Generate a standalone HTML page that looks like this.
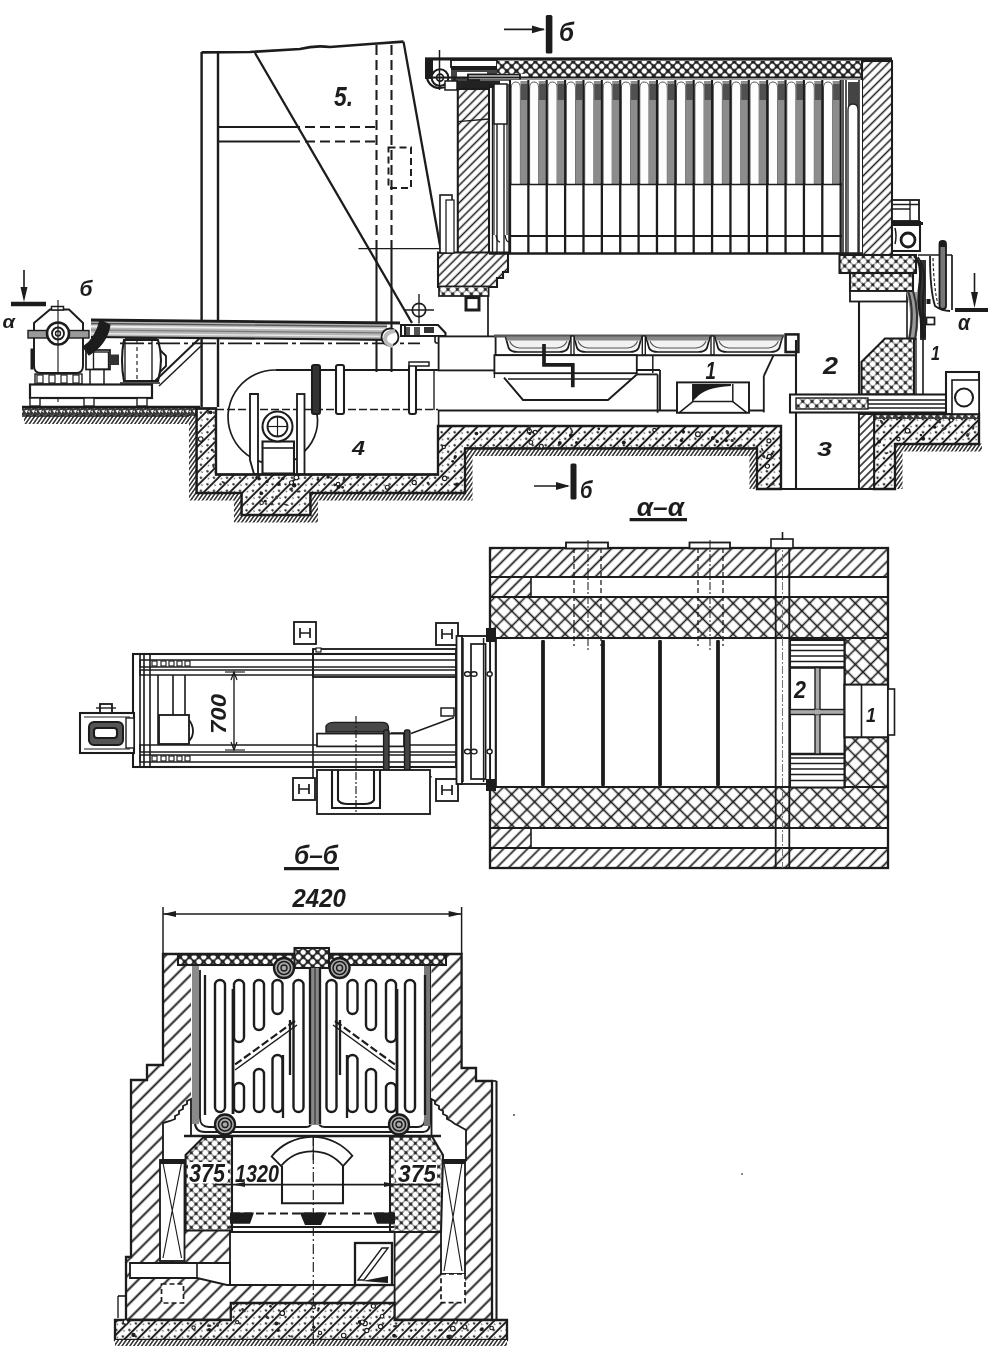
<!DOCTYPE html>
<html><head><meta charset="utf-8"><title>Furnace drawing</title>
<style>html,body{margin:0;padding:0;background:#fff;} svg{display:block;filter:blur(0.4px);}</style></head>
<body><svg width="1000" height="1361" viewBox="0 0 1000 1361"><defs>
 <pattern id="h8" width="6.2" height="6.2" patternUnits="userSpaceOnUse" patternTransform="rotate(45)"><rect width="6.2" height="6.2" fill="#fff"/><line x1="3.1" y1="-1" x2="3.1" y2="7.2" stroke="#1c1c1c" stroke-width="1.5"/></pattern>
 <pattern id="h6" width="5.5" height="5.5" patternUnits="userSpaceOnUse" patternTransform="rotate(45)"><rect width="5.5" height="5.5" fill="#fff"/><line x1="2.75" y1="-1" x2="2.75" y2="6.5" stroke="#1c1c1c" stroke-width="1.5"/></pattern>
 <pattern id="h12" width="8.5" height="8.5" patternUnits="userSpaceOnUse" patternTransform="rotate(45)"><rect width="8.5" height="8.5" fill="#fff"/><line x1="4.25" y1="-1" x2="4.25" y2="9.5" stroke="#1c1c1c" stroke-width="1.7"/></pattern>
 <pattern id="h10" width="10.5" height="10.5" patternUnits="userSpaceOnUse" patternTransform="rotate(45)"><rect width="10.5" height="10.5" fill="#fff"/><line x1="5.25" y1="-1" x2="5.25" y2="11.5" stroke="#1c1c1c" stroke-width="1.95"/></pattern>
 <pattern id="conc" width="9.2" height="9.2" patternUnits="userSpaceOnUse" patternTransform="rotate(45)"><rect width="9.2" height="9.2" fill="#fff"/><line x1="4.6" y1="-1" x2="4.6" y2="10.2" stroke="#1c1c1c" stroke-width="2.0"/><circle cx="1.5" cy="2.5" r="1.2" fill="#1c1c1c"/><circle cx="7.5" cy="7" r="0.8" fill="#555"/></pattern>
 <pattern id="gnd" width="3.2" height="3.2" patternUnits="userSpaceOnUse" patternTransform="rotate(35)"><rect width="3.2" height="3.2" fill="#fff"/><line x1="1.6" y1="-1" x2="1.6" y2="4.2" stroke="#1c1c1c" stroke-width="1.4"/></pattern>
 <pattern id="x10" width="6.7" height="6.7" patternUnits="userSpaceOnUse" patternTransform="rotate(45)">
   <rect width="7" height="7" fill="#222"/>
   <circle cx="3.35" cy="3.35" r="2.6" fill="#fff"/></pattern>
 <pattern id="x10b" width="6.6" height="6.6" patternUnits="userSpaceOnUse" patternTransform="rotate(45)">
   <rect width="7" height="7" fill="#222"/>
   <circle cx="3.3" cy="3.3" r="3.0" fill="#fff"/></pattern>
 <pattern id="x15" width="10.8" height="10.8" patternUnits="userSpaceOnUse" patternTransform="rotate(45)">
   <rect width="11" height="11" fill="#fff"/>
   <line x1="5.4" y1="-1" x2="5.4" y2="12" stroke="#1c1c1c" stroke-width="1.6"/>
   <line x1="-1" y1="5.4" x2="12" y2="5.4" stroke="#1c1c1c" stroke-width="1.6"/>
   <circle cx="5.4" cy="5.4" r="1.1" fill="#1c1c1c"/></pattern>
 <pattern id="gband" width="7" height="9" patternUnits="userSpaceOnUse">
   <rect width="7" height="9" fill="#3a3a3a"/><path d="M0.5,1.5 L5,0.8 L3.5,3.8 Z M3.5,5.5 L7,4.8 L5.5,8.3 Z M0,6 L2,5.5 L1.5,8 Z" fill="#fff"/></pattern>
</defs>
<line x1="24" y1="270" x2="24" y2="292" stroke="#1c1c1c" stroke-width="1.61" stroke-linecap="butt"/>
<path d="M20.5,287 L24,302 L27.5,287 Z" fill="#1c1c1c" />
<line x1="11" y1="304" x2="46" y2="304" stroke="#1c1c1c" stroke-width="4.6" stroke-linecap="butt"/>
<text x="2.5" y="327.5" font-family="Liberation Sans" font-size="18.9" font-style="italic" font-weight="bold" fill="#1c1c1c" textLength="12.5" lengthAdjust="spacingAndGlyphs">α</text>
<text x="79.5" y="296" font-family="Liberation Sans" font-size="22.4" font-style="italic" font-weight="bold" fill="#1c1c1c" textLength="13.0" lengthAdjust="spacingAndGlyphs">б</text>
<rect x="22" y="407" width="175" height="9" fill="url(#gband)" />
<rect x="24" y="416" width="173" height="8" fill="url(#gnd)" />
<line x1="22" y1="407" x2="200" y2="407" stroke="#1c1c1c" stroke-width="2.53" stroke-linecap="butt"/>
<line x1="22" y1="416" x2="197" y2="416" stroke="#1c1c1c" stroke-width="1.38" stroke-linecap="butt"/>
<path d="M34,323 L50,309.5 L69,309.5 L83,323 L83,366 Q83,373 76,373 L41,373 Q34,373 34,366 Z" fill="#fff" stroke="#1c1c1c" stroke-width="1.95" />
<rect x="51.5" y="306.5" width="12" height="3.5" fill="#fff" stroke="#1c1c1c" stroke-width="1.49" />
<rect x="28" y="330.5" width="61" height="7.5" fill="#9a9a9a" stroke="#1c1c1c" stroke-width="1.38" />
<circle cx="58" cy="333.5" r="11" fill="#fff" stroke="#1c1c1c" stroke-width="2.53"/>
<circle cx="58" cy="333.5" r="6" fill="none" stroke="#1c1c1c" stroke-width="1.84"/>
<circle cx="58" cy="333.5" r="2.5" fill="none" stroke="#1c1c1c" stroke-width="1.38"/>
<line x1="58" y1="300" x2="58" y2="402" stroke="#1c1c1c" stroke-width="1.15" stroke-linecap="butt"/>
<line x1="32" y1="348.5" x2="32" y2="369.5" stroke="#1c1c1c" stroke-width="2.99" stroke-linecap="butt"/>
<rect x="35" y="374" width="47" height="10" fill="#fff" stroke="#1c1c1c" stroke-width="1.38" />
<rect x="37" y="375" width="6" height="8" fill="#fff" stroke="#1c1c1c" stroke-width="1.15" />
<rect x="49" y="375" width="6" height="8" fill="#fff" stroke="#1c1c1c" stroke-width="1.15" />
<rect x="61" y="375" width="6" height="8" fill="#fff" stroke="#1c1c1c" stroke-width="1.15" />
<rect x="73" y="375" width="6" height="8" fill="#fff" stroke="#1c1c1c" stroke-width="1.15" />
<rect x="30" y="384.5" width="122" height="13.5" fill="#fff" stroke="#1c1c1c" stroke-width="2.18" />
<rect x="30" y="398" width="10" height="8" fill="#fff" stroke="#1c1c1c" stroke-width="1.38" />
<rect x="84" y="398" width="10" height="8" fill="#fff" stroke="#1c1c1c" stroke-width="1.38" />
<rect x="137" y="398" width="10" height="8" fill="#fff" stroke="#1c1c1c" stroke-width="1.38" />
<rect x="86" y="350" width="24" height="19.5" fill="#fff" stroke="#1c1c1c" stroke-width="1.72" />
<rect x="93.5" y="352" width="15" height="17" fill="#fff" stroke="#1c1c1c" stroke-width="1.38" />
<line x1="90" y1="369.5" x2="90" y2="384" stroke="#1c1c1c" stroke-width="1.49" stroke-linecap="butt"/>
<line x1="104" y1="369.5" x2="104" y2="384" stroke="#1c1c1c" stroke-width="1.49" stroke-linecap="butt"/>
<rect x="110" y="354.5" width="9" height="10.5" fill="#333" />
<path d="M124,340 Q120,360 124,381 L158,381 Q164,360 158,340 Z" fill="#fff" stroke="#1c1c1c" stroke-width="2.07" />
<line x1="125" y1="338" x2="157" y2="338" stroke="#1c1c1c" stroke-width="1.84" stroke-linecap="butt"/>
<line x1="125" y1="340" x2="125" y2="381" stroke="#1c1c1c" stroke-width="1.38" stroke-linecap="butt"/>
<line x1="137" y1="340" x2="137" y2="381" stroke="#1c1c1c" stroke-width="1.15" stroke-dasharray="4,3" stroke-linecap="butt"/>
<line x1="152" y1="340" x2="152" y2="381" stroke="#1c1c1c" stroke-width="1.38" stroke-linecap="butt"/>
<path d="M160,350 L166,356 L166,366 L160,372" fill="none" stroke="#1c1c1c" stroke-width="1.84" />
<line x1="120" y1="383" x2="160" y2="383" stroke="#1c1c1c" stroke-width="1.49" stroke-linecap="butt"/>
<line x1="155" y1="381" x2="201" y2="337" stroke="#1c1c1c" stroke-width="1.95" stroke-linecap="butt"/>
<line x1="159" y1="386" x2="201" y2="346" stroke="#1c1c1c" stroke-width="1.49" stroke-linecap="butt"/>
<line x1="201.6" y1="52" x2="201.6" y2="407" stroke="#1c1c1c" stroke-width="2.42" stroke-linecap="butt"/>
<line x1="218" y1="52" x2="218" y2="407" stroke="#1c1c1c" stroke-width="2.42" stroke-linecap="butt"/>
<path d="M201.6,52.4 L250,52 L300,49 Q315,45 330,47 L370,44 L403.5,41.6" fill="none" stroke="#1c1c1c" stroke-width="2.64" />
<line x1="403.5" y1="41.6" x2="441" y2="251" stroke="#1c1c1c" stroke-width="2.3" stroke-linecap="butt"/>
<line x1="255" y1="53" x2="412" y2="323" stroke="#1c1c1c" stroke-width="2.3" stroke-linecap="butt"/>
<line x1="218" y1="127" x2="290" y2="127" stroke="#1c1c1c" stroke-width="1.95" stroke-linecap="butt"/>
<line x1="290" y1="127" x2="376.5" y2="127" stroke="#1c1c1c" stroke-width="2.07" stroke-dasharray="10,5" stroke-linecap="butt"/>
<line x1="218" y1="141.5" x2="290" y2="141.5" stroke="#1c1c1c" stroke-width="1.95" stroke-linecap="butt"/>
<line x1="290" y1="141.5" x2="376.5" y2="141.5" stroke="#1c1c1c" stroke-width="2.07" stroke-dasharray="10,5" stroke-linecap="butt"/>
<line x1="376.5" y1="45" x2="376.5" y2="250" stroke="#1c1c1c" stroke-width="2.07" stroke-dasharray="10,5" stroke-linecap="butt"/>
<line x1="391.5" y1="45" x2="391.5" y2="250" stroke="#1c1c1c" stroke-width="2.07" stroke-dasharray="10,5" stroke-linecap="butt"/>
<line x1="376.5" y1="250" x2="376.5" y2="372" stroke="#1c1c1c" stroke-width="2.07" stroke-linecap="butt"/>
<line x1="391.5" y1="250" x2="391.5" y2="372" stroke="#1c1c1c" stroke-width="2.07" stroke-linecap="butt"/>
<rect x="388.5" y="147.5" width="22.5" height="40.5" fill="none" stroke="#1c1c1c" stroke-width="1.95" stroke-dasharray="7,4"/>
<line x1="358.5" y1="248.6" x2="439.5" y2="248.6" stroke="#1c1c1c" stroke-width="1.38" stroke-linecap="butt"/>
<text x="334" y="105.5" font-family="Liberation Sans" font-size="27.9" font-style="italic" font-weight="bold" fill="#1c1c1c" textLength="19" lengthAdjust="spacingAndGlyphs">5.</text>
<circle cx="419" cy="310" r="6.7" fill="none" stroke="#1c1c1c" stroke-width="1.72"/>
<line x1="404" y1="310" x2="434" y2="310" stroke="#1c1c1c" stroke-width="1.49" stroke-linecap="butt"/>
<line x1="419" y1="294" x2="419" y2="323.5" stroke="#1c1c1c" stroke-width="1.38" stroke-linecap="butt"/>
<path d="M91,320.0 L387,322.873786407767 L387,339.873786407767 L91,337.0 Z" fill="#b4b4b4" />
<line x1="91" y1="320.0" x2="400" y2="323.0" stroke="#1c1c1c" stroke-width="2.76" stroke-linecap="butt"/>
<line x1="91" y1="323.5" x2="387" y2="326.37" stroke="#555" stroke-width="1.38" stroke-linecap="butt"/>
<line x1="91" y1="326.5" x2="387" y2="329.37" stroke="#eee" stroke-width="1.84" stroke-linecap="butt"/>
<line x1="91" y1="330.0" x2="387" y2="332.87" stroke="#777" stroke-width="1.15" stroke-linecap="butt"/>
<line x1="91" y1="333.5" x2="387" y2="336.37" stroke="#e8e8e8" stroke-width="1.38" stroke-linecap="butt"/>
<line x1="91" y1="337.0" x2="387" y2="339.87" stroke="#1c1c1c" stroke-width="2.07" stroke-linecap="butt"/>
<line x1="120" y1="343.3" x2="420" y2="343.3" stroke="#1c1c1c" stroke-width="1.72" stroke-dasharray="24,4,4,4" stroke-linecap="butt"/>
<circle cx="390" cy="337" r="8.5" fill="#fff" stroke="#1c1c1c" stroke-width="1.84"/>
<path d="M395,331 Q385,332 385,339 Q386,345 393,346" fill="none" stroke="#bbb" stroke-width="4.02" />
<path d="M401,325 L438,325 L445.5,333 L445.5,336 L401,336 Z" fill="#fff" stroke="#1c1c1c" stroke-width="2.07" />
<rect x="404" y="327" width="6" height="8" fill="#555" />
<rect x="414" y="327" width="6" height="8" fill="#555" />
<rect x="424" y="327" width="10" height="6" fill="#333" />
<rect x="435" y="336" width="7" height="7" fill="#fff" stroke="#1c1c1c" stroke-width="1.61" rx="2" />
<line x1="405" y1="325" x2="405" y2="336" stroke="#1c1c1c" stroke-width="1.84" stroke-linecap="butt"/>
<path d="M83,347 Q96,338 100,320 L110,325 Q107,344 89,355 Z" fill="#1c1c1c" stroke="#1c1c1c" stroke-width="1.15" />
<line x1="504" y1="29.4" x2="544" y2="29.4" stroke="#1c1c1c" stroke-width="1.61" stroke-linecap="butt"/>
<path d="M532,25.5 L545,29.4 L532,33.3 Z" fill="#1c1c1c" />
<rect x="545.8" y="15" width="6.6" height="38.4" fill="#1c1c1c" rx="1.5" />
<text x="559" y="41" font-family="Liberation Sans" font-size="26.3" font-style="italic" font-weight="bold" fill="#1c1c1c" textLength="15" lengthAdjust="spacingAndGlyphs">б</text>
<rect x="425" y="57.6" width="467" height="2.8" fill="#1c1c1c" />
<rect x="425" y="60.4" width="95" height="28" fill="#fff" />
<rect x="425" y="59" width="8" height="20" fill="#1c1c1c" />
<rect x="451" y="60" width="46" height="7" fill="#fff" stroke="#1c1c1c" stroke-width="1.84" />
<rect x="451" y="66" width="50" height="4.5" fill="#1c1c1c" />
<rect x="451" y="70" width="46" height="11" fill="#444" />
<rect x="457" y="72" width="30" height="5" fill="#fff" />
<rect x="468" y="74.5" width="52" height="5.5" fill="#fff" stroke="#1c1c1c" stroke-width="1.84" />
<rect x="451" y="81" width="49" height="7" fill="#222" />
<rect x="497" y="61" width="31" height="13" fill="url(#x10)" />
<circle cx="440" cy="77.6" r="8.4" fill="#fff" stroke="#1c1c1c" stroke-width="2.07"/>
<circle cx="440" cy="77.6" r="3.5" fill="none" stroke="#1c1c1c" stroke-width="1.61"/>
<line x1="439.5" y1="50" x2="439.5" y2="90" stroke="#1c1c1c" stroke-width="1.49" stroke-linecap="butt"/>
<line x1="430" y1="77.6" x2="450" y2="77.6" stroke="#1c1c1c" stroke-width="1.15" stroke-linecap="butt"/>
<path d="M426,62 L426,74 Q428,88 440,88 Q452,88 455,78" fill="none" stroke="#1c1c1c" stroke-width="2.07" />
<rect x="445" y="81" width="12" height="9" fill="#fff" stroke="#1c1c1c" stroke-width="1.49" />
<rect x="425" y="57.6" width="467" height="2.8" fill="#1c1c1c" />
<rect x="528" y="61" width="334" height="16" fill="url(#x10)" />
<line x1="425" y1="77.5" x2="862" y2="77.5" stroke="#1c1c1c" stroke-width="1.84" stroke-linecap="butt"/>
<line x1="480" y1="80" x2="862" y2="80" stroke="#777" stroke-width="1.49" stroke-linecap="butt"/>
<rect x="862" y="61" width="30" height="194" fill="url(#h8)" stroke="#1c1c1c" stroke-width="2.07" />
<rect x="457.8" y="89" width="31.2" height="164" fill="url(#h8)" stroke="#1c1c1c" stroke-width="2.07" />
<line x1="457.8" y1="121.6" x2="489" y2="119" stroke="#1c1c1c" stroke-width="1.38" stroke-linecap="butt"/>
<path d="M438,252.5 L508,252.5 L508,272 L503,272 L503,278 L497,278 L497,287 L438,287 Z" fill="url(#h8)" stroke="#1c1c1c" stroke-width="2.07" />
<rect x="439" y="286.4" width="49.6" height="9.6" fill="url(#x10b)" stroke="#1c1c1c" stroke-width="1.72" />
<rect x="466" y="297.6" width="13" height="12.4" fill="#fff" stroke="#1c1c1c" stroke-width="2.99" />
<line x1="472" y1="296" x2="472" y2="299" stroke="#1c1c1c" stroke-width="1.61" stroke-linecap="butt"/>
<rect x="440" y="195" width="12" height="58" fill="#fff" stroke="#1c1c1c" stroke-width="1.61" />
<rect x="446" y="200" width="8" height="53" fill="#fff" stroke="#1c1c1c" stroke-width="1.26" />
<line x1="489" y1="84" x2="489" y2="253" stroke="#1c1c1c" stroke-width="1.38" stroke-linecap="butt"/>
<line x1="492.5" y1="84" x2="492.5" y2="253" stroke="#1c1c1c" stroke-width="1.38" stroke-linecap="butt"/>
<line x1="497" y1="84" x2="497" y2="253" stroke="#1c1c1c" stroke-width="1.38" stroke-linecap="butt"/>
<line x1="504" y1="84" x2="504" y2="253" stroke="#1c1c1c" stroke-width="1.38" stroke-linecap="butt"/>
<line x1="509" y1="84" x2="509" y2="253" stroke="#1c1c1c" stroke-width="1.38" stroke-linecap="butt"/>
<line x1="514" y1="84" x2="514" y2="253" stroke="#1c1c1c" stroke-width="1.38" stroke-linecap="butt"/>
<line x1="520" y1="84" x2="520" y2="253" stroke="#1c1c1c" stroke-width="1.38" stroke-linecap="butt"/>
<path d="M494,84 L494,235 M507,84 L507,235" fill="none" stroke="#1c1c1c" stroke-width="1.15" />
<rect x="494" y="84" width="13" height="40" fill="#fff" stroke="#1c1c1c" stroke-width="1.49" />
<path d="M496,235 Q497,242 500,242 M505,235 Q506,242 509,242" fill="none" stroke="#1c1c1c" stroke-width="1.38" />
<rect x="509" y="80" width="333" height="104" fill="#fff" />
<path d="M511.2,184 L511.2,88 Q511.2,82 515.8,82 Q520.4,82 520.4,88 L520.4,184" fill="#fdfdfd" stroke="#444" stroke-width="0.9"/>
<line x1="510.0" y1="80" x2="510.0" y2="253" stroke="#1c1c1c" stroke-width="2.07" stroke-linecap="butt"/>
<rect x="520.37" y="81" width="8" height="103" fill="#8c8c8c" />
<rect x="520.87" y="84" width="6.5" height="16" fill="#505050" />
<path d="M529.6,184 L529.6,88 Q529.6,82 534.2,82 Q538.7,82 538.7,88 L538.7,184" fill="#fdfdfd" stroke="#444" stroke-width="0.9"/>
<line x1="528.37" y1="80" x2="528.37" y2="253" stroke="#1c1c1c" stroke-width="2.07" stroke-linecap="butt"/>
<rect x="538.74" y="81" width="8" height="103" fill="#8c8c8c" />
<rect x="539.24" y="84" width="6.5" height="16" fill="#505050" />
<path d="M547.9,184 L547.9,88 Q547.9,82 552.5,82 Q557.1,82 557.1,88 L557.1,184" fill="#fdfdfd" stroke="#444" stroke-width="0.9"/>
<line x1="546.74" y1="80" x2="546.74" y2="253" stroke="#1c1c1c" stroke-width="2.07" stroke-linecap="butt"/>
<rect x="557.11" y="81" width="8" height="103" fill="#8c8c8c" />
<rect x="557.61" y="84" width="6.5" height="16" fill="#505050" />
<path d="M566.3,184 L566.3,88 Q566.3,82 570.9,82 Q575.5,82 575.5,88 L575.5,184" fill="#fdfdfd" stroke="#444" stroke-width="0.9"/>
<line x1="565.11" y1="80" x2="565.11" y2="253" stroke="#1c1c1c" stroke-width="2.07" stroke-linecap="butt"/>
<rect x="575.48" y="81" width="8" height="103" fill="#8c8c8c" />
<rect x="575.98" y="84" width="6.5" height="16" fill="#505050" />
<path d="M584.7,184 L584.7,88 Q584.7,82 589.3,82 Q593.9,82 593.9,88 L593.9,184" fill="#fdfdfd" stroke="#444" stroke-width="0.9"/>
<line x1="583.48" y1="80" x2="583.48" y2="253" stroke="#1c1c1c" stroke-width="2.07" stroke-linecap="butt"/>
<rect x="593.85" y="81" width="8" height="103" fill="#8c8c8c" />
<rect x="594.35" y="84" width="6.5" height="16" fill="#505050" />
<path d="M603.1,184 L603.1,88 Q603.1,82 607.6,82 Q612.2,82 612.2,88 L612.2,184" fill="#fdfdfd" stroke="#444" stroke-width="0.9"/>
<line x1="601.85" y1="80" x2="601.85" y2="253" stroke="#1c1c1c" stroke-width="2.07" stroke-linecap="butt"/>
<rect x="612.22" y="81" width="8" height="103" fill="#8c8c8c" />
<rect x="612.72" y="84" width="6.5" height="16" fill="#505050" />
<path d="M621.4,184 L621.4,88 Q621.4,82 626.0,82 Q630.6,82 630.6,88 L630.6,184" fill="#fdfdfd" stroke="#444" stroke-width="0.9"/>
<line x1="620.22" y1="80" x2="620.22" y2="253" stroke="#1c1c1c" stroke-width="2.07" stroke-linecap="butt"/>
<rect x="630.59" y="81" width="8" height="103" fill="#8c8c8c" />
<rect x="631.09" y="84" width="6.5" height="16" fill="#505050" />
<path d="M639.8,184 L639.8,88 Q639.8,82 644.4,82 Q649.0,82 649.0,88 L649.0,184" fill="#fdfdfd" stroke="#444" stroke-width="0.9"/>
<line x1="638.59" y1="80" x2="638.59" y2="253" stroke="#1c1c1c" stroke-width="2.07" stroke-linecap="butt"/>
<rect x="648.96" y="81" width="8" height="103" fill="#8c8c8c" />
<rect x="649.46" y="84" width="6.5" height="16" fill="#505050" />
<path d="M658.2,184 L658.2,88 Q658.2,82 662.7,82 Q667.3,82 667.3,88 L667.3,184" fill="#fdfdfd" stroke="#444" stroke-width="0.9"/>
<line x1="656.96" y1="80" x2="656.96" y2="253" stroke="#1c1c1c" stroke-width="2.07" stroke-linecap="butt"/>
<rect x="667.33" y="81" width="8" height="103" fill="#8c8c8c" />
<rect x="667.83" y="84" width="6.5" height="16" fill="#505050" />
<path d="M676.5,184 L676.5,88 Q676.5,82 681.1,82 Q685.7,82 685.7,88 L685.7,184" fill="#fdfdfd" stroke="#444" stroke-width="0.9"/>
<line x1="675.33" y1="80" x2="675.33" y2="253" stroke="#1c1c1c" stroke-width="2.07" stroke-linecap="butt"/>
<rect x="685.7" y="81" width="8" height="103" fill="#8c8c8c" />
<rect x="686.2" y="84" width="6.5" height="16" fill="#505050" />
<path d="M694.9,184 L694.9,88 Q694.9,82 699.5,82 Q704.1,82 704.1,88 L704.1,184" fill="#fdfdfd" stroke="#444" stroke-width="0.9"/>
<line x1="693.7" y1="80" x2="693.7" y2="253" stroke="#1c1c1c" stroke-width="2.07" stroke-linecap="butt"/>
<rect x="704.07" y="81" width="8" height="103" fill="#8c8c8c" />
<rect x="704.57" y="84" width="6.5" height="16" fill="#505050" />
<path d="M713.3,184 L713.3,88 Q713.3,82 717.9,82 Q722.4,82 722.4,88 L722.4,184" fill="#fdfdfd" stroke="#444" stroke-width="0.9"/>
<line x1="712.07" y1="80" x2="712.07" y2="253" stroke="#1c1c1c" stroke-width="2.07" stroke-linecap="butt"/>
<rect x="722.44" y="81" width="8" height="103" fill="#8c8c8c" />
<rect x="722.94" y="84" width="6.5" height="16" fill="#505050" />
<path d="M731.6,184 L731.6,88 Q731.6,82 736.2,82 Q740.8,82 740.8,88 L740.8,184" fill="#fdfdfd" stroke="#444" stroke-width="0.9"/>
<line x1="730.44" y1="80" x2="730.44" y2="253" stroke="#1c1c1c" stroke-width="2.07" stroke-linecap="butt"/>
<rect x="740.81" y="81" width="8" height="103" fill="#8c8c8c" />
<rect x="741.31" y="84" width="6.5" height="16" fill="#505050" />
<path d="M750.0,184 L750.0,88 Q750.0,82 754.6,82 Q759.2,82 759.2,88 L759.2,184" fill="#fdfdfd" stroke="#444" stroke-width="0.9"/>
<line x1="748.81" y1="80" x2="748.81" y2="253" stroke="#1c1c1c" stroke-width="2.07" stroke-linecap="butt"/>
<rect x="759.1800000000001" y="81" width="8" height="103" fill="#8c8c8c" />
<rect x="759.6800000000001" y="84" width="6.5" height="16" fill="#505050" />
<path d="M768.4,184 L768.4,88 Q768.4,82 773.0,82 Q777.6,82 777.6,88 L777.6,184" fill="#fdfdfd" stroke="#444" stroke-width="0.9"/>
<line x1="767.1800000000001" y1="80" x2="767.1800000000001" y2="253" stroke="#1c1c1c" stroke-width="2.07" stroke-linecap="butt"/>
<rect x="777.55" y="81" width="8" height="103" fill="#8c8c8c" />
<rect x="778.05" y="84" width="6.5" height="16" fill="#505050" />
<path d="M786.8,184 L786.8,88 Q786.8,82 791.3,82 Q795.9,82 795.9,88 L795.9,184" fill="#fdfdfd" stroke="#444" stroke-width="0.9"/>
<line x1="785.55" y1="80" x2="785.55" y2="253" stroke="#1c1c1c" stroke-width="2.07" stroke-linecap="butt"/>
<rect x="795.9200000000001" y="81" width="8" height="103" fill="#8c8c8c" />
<rect x="796.4200000000001" y="84" width="6.5" height="16" fill="#505050" />
<path d="M805.1,184 L805.1,88 Q805.1,82 809.7,82 Q814.3,82 814.3,88 L814.3,184" fill="#fdfdfd" stroke="#444" stroke-width="0.9"/>
<line x1="803.9200000000001" y1="80" x2="803.9200000000001" y2="253" stroke="#1c1c1c" stroke-width="2.07" stroke-linecap="butt"/>
<rect x="814.29" y="81" width="8" height="103" fill="#8c8c8c" />
<rect x="814.79" y="84" width="6.5" height="16" fill="#505050" />
<path d="M823.5,184 L823.5,88 Q823.5,82 828.1,82 Q832.7,82 832.7,88 L832.7,184" fill="#fdfdfd" stroke="#444" stroke-width="0.9"/>
<line x1="822.29" y1="80" x2="822.29" y2="253" stroke="#1c1c1c" stroke-width="2.07" stroke-linecap="butt"/>
<rect x="832.6600000000001" y="81" width="8" height="103" fill="#8c8c8c" />
<rect x="833.1600000000001" y="84" width="6.5" height="16" fill="#505050" />
<line x1="840.6600000000001" y1="80" x2="840.6600000000001" y2="253" stroke="#1c1c1c" stroke-width="2.07" stroke-linecap="butt"/>
<rect x="509" y="184" width="333" height="69" fill="#fff" />
<line x1="509" y1="184.5" x2="842" y2="184.5" stroke="#1c1c1c" stroke-width="1.49" stroke-linecap="butt"/>
<line x1="510.0" y1="183" x2="510.0" y2="253" stroke="#1c1c1c" stroke-width="2.3" stroke-linecap="butt"/>
<line x1="528.37" y1="183" x2="528.37" y2="253" stroke="#1c1c1c" stroke-width="2.3" stroke-linecap="butt"/>
<line x1="546.74" y1="183" x2="546.74" y2="253" stroke="#1c1c1c" stroke-width="2.3" stroke-linecap="butt"/>
<line x1="565.11" y1="183" x2="565.11" y2="253" stroke="#1c1c1c" stroke-width="2.3" stroke-linecap="butt"/>
<line x1="583.48" y1="183" x2="583.48" y2="253" stroke="#1c1c1c" stroke-width="2.3" stroke-linecap="butt"/>
<line x1="601.85" y1="183" x2="601.85" y2="253" stroke="#1c1c1c" stroke-width="2.3" stroke-linecap="butt"/>
<line x1="620.22" y1="183" x2="620.22" y2="253" stroke="#1c1c1c" stroke-width="2.3" stroke-linecap="butt"/>
<line x1="638.59" y1="183" x2="638.59" y2="253" stroke="#1c1c1c" stroke-width="2.3" stroke-linecap="butt"/>
<line x1="656.96" y1="183" x2="656.96" y2="253" stroke="#1c1c1c" stroke-width="2.3" stroke-linecap="butt"/>
<line x1="675.33" y1="183" x2="675.33" y2="253" stroke="#1c1c1c" stroke-width="2.3" stroke-linecap="butt"/>
<line x1="693.7" y1="183" x2="693.7" y2="253" stroke="#1c1c1c" stroke-width="2.3" stroke-linecap="butt"/>
<line x1="712.07" y1="183" x2="712.07" y2="253" stroke="#1c1c1c" stroke-width="2.3" stroke-linecap="butt"/>
<line x1="730.44" y1="183" x2="730.44" y2="253" stroke="#1c1c1c" stroke-width="2.3" stroke-linecap="butt"/>
<line x1="748.81" y1="183" x2="748.81" y2="253" stroke="#1c1c1c" stroke-width="2.3" stroke-linecap="butt"/>
<line x1="767.1800000000001" y1="183" x2="767.1800000000001" y2="253" stroke="#1c1c1c" stroke-width="2.3" stroke-linecap="butt"/>
<line x1="785.55" y1="183" x2="785.55" y2="253" stroke="#1c1c1c" stroke-width="2.3" stroke-linecap="butt"/>
<line x1="803.9200000000001" y1="183" x2="803.9200000000001" y2="253" stroke="#1c1c1c" stroke-width="2.3" stroke-linecap="butt"/>
<line x1="822.29" y1="183" x2="822.29" y2="253" stroke="#1c1c1c" stroke-width="2.3" stroke-linecap="butt"/>
<line x1="840.6600000000001" y1="183" x2="840.6600000000001" y2="253" stroke="#1c1c1c" stroke-width="2.3" stroke-linecap="butt"/>
<line x1="509" y1="236" x2="842" y2="236" stroke="#1c1c1c" stroke-width="2.07" stroke-linecap="butt"/>
<rect x="842" y="80" width="20" height="173" fill="#fff" />
<line x1="843" y1="80" x2="843" y2="253" stroke="#1c1c1c" stroke-width="1.49" stroke-linecap="butt"/>
<line x1="846" y1="80" x2="846" y2="253" stroke="#1c1c1c" stroke-width="1.49" stroke-linecap="butt"/>
<line x1="859" y1="80" x2="859" y2="253" stroke="#1c1c1c" stroke-width="1.49" stroke-linecap="butt"/>
<rect x="848" y="82" width="11" height="24" fill="#444" />
<path d="M848,253 L848,110 Q848,104 853,104 Q858,104 858,110 L858,253" fill="#fff" stroke="#222" stroke-width="1.3"/>
<line x1="489" y1="253.5" x2="862" y2="253.5" stroke="#1c1c1c" stroke-width="2.53" stroke-linecap="butt"/>
<rect x="839.5" y="255" width="76.5" height="18" fill="url(#x10b)" stroke="#1c1c1c" stroke-width="2.07" />
<rect x="850" y="273" width="63" height="18" fill="url(#x10b)" stroke="#1c1c1c" stroke-width="2.07" />
<rect x="850" y="291" width="57" height="10.5" fill="#fff" stroke="#1c1c1c" stroke-width="1.84" />
<rect x="892" y="200" width="27" height="21" fill="#fff" stroke="#1c1c1c" stroke-width="1.84" />
<line x1="892" y1="204.5" x2="919" y2="204.5" stroke="#1c1c1c" stroke-width="1.49" stroke-linecap="butt"/>
<line x1="892" y1="209" x2="910" y2="209" stroke="#1c1c1c" stroke-width="1.49" stroke-linecap="butt"/>
<line x1="910" y1="200" x2="910" y2="221" stroke="#1c1c1c" stroke-width="1.38" stroke-linecap="butt"/>
<rect x="892" y="222" width="28" height="29" fill="#fff" stroke="#1c1c1c" stroke-width="2.07" />
<rect x="892" y="222" width="28" height="4" fill="#1c1c1c" />
<rect x="920" y="222" width="3" height="3" fill="#1c1c1c" />
<circle cx="908" cy="240" r="7" fill="#fff" stroke="#1c1c1c" stroke-width="2.76"/>
<path d="M895,228 Q897,236 895,244" fill="none" stroke="#1c1c1c" stroke-width="1.49" />
<line x1="918" y1="255" x2="952" y2="255" stroke="#1c1c1c" stroke-width="1.72" stroke-linecap="butt"/>
<line x1="952" y1="255" x2="952" y2="310" stroke="#1c1c1c" stroke-width="1.72" stroke-linecap="butt"/>
<path d="M930,256 Q930,290 935,306 Q942,311 950,311" fill="none" stroke="#1c1c1c" stroke-width="1.84" />
<path d="M933,258 Q934,290 938,304" fill="none" stroke="#1c1c1c" stroke-width="1.15" stroke-dasharray="3,2"/>
<rect x="939.5" y="241" width="6.5" height="68" fill="#777" stroke="#1c1c1c" stroke-width="1.84" rx="3" />
<rect x="939.5" y="241" width="6.5" height="6" fill="#1c1c1c" />
<rect x="920" y="260" width="6" height="80" fill="#333" />
<rect x="926.5" y="299" width="4" height="5" fill="#1c1c1c" />
<rect x="926.5" y="317.5" width="8" height="7" fill="#fff" stroke="#1c1c1c" stroke-width="1.72" />
<path d="M906,292 Q913,312 908,340 L916,340 Q921,312 917,292 Z" fill="#999" />
<path d="M908,291 Q915,310 909,340 M913,291 Q920,312 915,340" fill="none" stroke="#333" stroke-width="2.07" />
<path d="M914,256 Q922,262 920,282 Q917,300 921,318 L922,338" fill="none" stroke="#1c1c1c" stroke-width="2.76" />
<path d="M918,257 Q926,268 924,288 Q921,304 925,322 L925,338" fill="none" stroke="#1c1c1c" stroke-width="1.61" />
<line x1="974.5" y1="273" x2="974.5" y2="296" stroke="#1c1c1c" stroke-width="1.61" stroke-linecap="butt"/>
<path d="M971,292 L974.5,308 L978,292 Z" fill="#1c1c1c" />
<rect x="955" y="308" width="33" height="4" fill="#1c1c1c" />
<text x="958" y="330" font-family="Liberation Sans" font-size="22.6" font-style="italic" font-weight="bold" fill="#1c1c1c" textLength="12" lengthAdjust="spacingAndGlyphs">α</text>
<path d="M196.5,408.5 L216,408.5 L216,474.5 L438,474.5 L438,426 L781,426 L781,489 L757,489 L757,448.5 L465,448.5 L465,493 L310.5,493 L310.5,515 L241.5,515 L241.5,493 L196.5,493 Z" fill="url(#conc)" stroke="#1c1c1c" stroke-width="2.07" />
<path d="M193,416 L193,496.5 L238,496.5 L238,518.5 L314,518.5 L314,496.5 L468.5,496.5 L468.5,452 L753.5,452 L753.5,489" fill="none" stroke="url(#gnd)" stroke-width="8.05" />
<path d="M874,414 L979,414 L979,444 L895,444 L895,489 L874,489 Z" fill="url(#conc)" stroke="#1c1c1c" stroke-width="2.07" />
<rect x="875" y="413" width="104" height="6" fill="url(#gband)" />
<path d="M982,447.5 L898.5,447.5 L898.5,489" fill="none" stroke="url(#gnd)" stroke-width="8.05" />
<path d="M196.5,408.5 L216,408.5 L216,474.5 L438,474.5 L438,426 L781,426 L781,489 L757,489 L757,448.5 L465,448.5 L465,493 L310.5,493 L310.5,515 L241.5,515 L241.5,493 L196.5,493 Z" fill="none" stroke="#1c1c1c" stroke-width="2.3" />
<path d="M874,414 L979,414 L979,444 L895,444 L895,489 L874,489 Z" fill="none" stroke="#1c1c1c" stroke-width="2.3" />
<line x1="757" y1="489" x2="895" y2="489" stroke="#1c1c1c" stroke-width="2.07" stroke-linecap="butt"/>
<path d="M276,370 A47,47 0 1,0 298,458" fill="#fff" stroke="#1c1c1c" stroke-width="1.7"/>
<path d="M317,414 A42,42 0 0,1 300,455" fill="none" stroke="#1c1c1c" stroke-width="1.7"/>
<line x1="276" y1="370" x2="660" y2="370" stroke="#1c1c1c" stroke-width="2.07" stroke-linecap="butt"/>
<line x1="216" y1="409.5" x2="438" y2="409.5" stroke="#1c1c1c" stroke-width="1.61" stroke-dasharray="8,3" stroke-linecap="butt"/>
<line x1="438" y1="410.5" x2="764" y2="410.5" stroke="#1c1c1c" stroke-width="2.07" stroke-linecap="butt"/>
<line x1="434" y1="370" x2="434" y2="410" stroke="#1c1c1c" stroke-width="1.38" stroke-linecap="butt"/>
<line x1="660" y1="370" x2="660" y2="411" stroke="#1c1c1c" stroke-width="1.84" stroke-linecap="butt"/>
<rect x="312" y="365" width="8" height="49" fill="#333" stroke="#1c1c1c" stroke-width="2.07" rx="2" />
<rect x="336" y="365" width="8" height="49" fill="#fff" stroke="#1c1c1c" stroke-width="2.07" rx="2" />
<rect x="409" y="365" width="7" height="49" fill="#fff" stroke="#1c1c1c" stroke-width="2.07" rx="2" />
<rect x="409" y="362" width="20" height="4" fill="#fff" stroke="#1c1c1c" stroke-width="1.49" />
<path d="M250,394 L258,394 L258,474 L254,474 L250,460 Z" fill="#fff" stroke="#1c1c1c" stroke-width="1.84" />
<rect x="297" y="394" width="7.5" height="80" fill="#fff" stroke="#1c1c1c" stroke-width="1.84" />
<rect x="262.5" y="441.5" width="31.5" height="32" fill="#fff" stroke="#1c1c1c" stroke-width="2.07" />
<line x1="262.5" y1="448" x2="294" y2="448" stroke="#1c1c1c" stroke-width="1.61" stroke-linecap="butt"/>
<circle cx="277.5" cy="426.5" r="15" fill="#fff" stroke="#1c1c1c" stroke-width="2.07"/>
<circle cx="277.5" cy="426.5" r="10" fill="none" stroke="#1c1c1c" stroke-width="1.84"/>
<line x1="268" y1="426.5" x2="287" y2="426.5" stroke="#1c1c1c" stroke-width="1.15" stroke-linecap="butt"/>
<line x1="277.5" y1="417" x2="277.5" y2="436" stroke="#1c1c1c" stroke-width="1.15" stroke-linecap="butt"/>
<text x="352" y="455" font-family="Liberation Sans" font-size="20.9" font-style="italic" font-weight="bold" fill="#1c1c1c" textLength="13" lengthAdjust="spacingAndGlyphs">4</text>
<rect x="438.6" y="336.4" width="57" height="34" fill="#fff" stroke="#1c1c1c" stroke-width="1.84" />
<line x1="488" y1="296" x2="488" y2="336" stroke="#1c1c1c" stroke-width="1.72" stroke-linecap="butt"/>
<line x1="494" y1="336" x2="784" y2="336" stroke="#555" stroke-width="2.76" stroke-linecap="butt"/>
<path d="M505.6,337 L508.6,348 Q510.6,352 517.6,352 L559,352 Q566,352 568,348 L571,337" fill="#f2f2f2" stroke="#1c1c1c" stroke-width="1.72" />
<rect x="506.6" y="336.5" width="63.39999999999998" height="4" fill="#888" />
<path d="M509.6,341 Q511.6,347 519.6,348 L557,348 Q565,347 567,341" fill="none" stroke="#555" stroke-width="1.03" />
<path d="M574,337 L577,348 Q579,352 586,352 L629.6,352 Q636.6,352 638.6,348 L641.6,337" fill="#f2f2f2" stroke="#1c1c1c" stroke-width="1.72" />
<rect x="575" y="336.5" width="65.60000000000002" height="4" fill="#888" />
<path d="M578,341 Q580,347 588,348 L627.6,348 Q635.6,347 637.6,341" fill="none" stroke="#555" stroke-width="1.03" />
<path d="M646,337 L649,348 Q651,352 658,352 L698,352 Q705,352 707,348 L710,337" fill="#f2f2f2" stroke="#1c1c1c" stroke-width="1.72" />
<rect x="647" y="336.5" width="62" height="4" fill="#888" />
<path d="M650,341 Q652,347 660,348 L696,348 Q704,347 706,341" fill="none" stroke="#555" stroke-width="1.03" />
<path d="M715,337 L718,348 Q720,352 727,352 L770.4,352 Q777.4,352 779.4,348 L782.4,337" fill="#f2f2f2" stroke="#1c1c1c" stroke-width="1.72" />
<rect x="716" y="336.5" width="65.39999999999998" height="4" fill="#888" />
<path d="M719,341 Q721,347 729,348 L768.4,348 Q776.4,347 778.4,341" fill="none" stroke="#555" stroke-width="1.03" />
<rect x="571.0" y="336" width="3" height="19" fill="#fff" stroke="#1c1c1c" stroke-width="1.38" />
<rect x="642.3" y="336" width="3" height="19" fill="#fff" stroke="#1c1c1c" stroke-width="1.38" />
<rect x="711.0" y="336" width="3" height="19" fill="#fff" stroke="#1c1c1c" stroke-width="1.38" />
<rect x="785.6" y="334.4" width="12.8" height="17.6" fill="#fff" stroke="#1c1c1c" stroke-width="2.53" />
<line x1="494.4" y1="355.2" x2="797" y2="355.2" stroke="#1c1c1c" stroke-width="1.95" stroke-linecap="butt"/>
<rect x="494.4" y="355.2" width="142.4" height="18" fill="#fff" stroke="#1c1c1c" stroke-width="1.84" />
<path d="M504,377.6 L523,400 L608,400 L636.8,374.4" fill="none" stroke="#1c1c1c" stroke-width="1.95" />
<line x1="508" y1="379" x2="632" y2="379" stroke="#1c1c1c" stroke-width="1.49" stroke-linecap="butt"/>
<line x1="494.4" y1="373.2" x2="494.4" y2="378" stroke="#1c1c1c" stroke-width="1.38" stroke-linecap="butt"/>
<line x1="636.8" y1="374.4" x2="657.6" y2="374.4" stroke="#1c1c1c" stroke-width="1.84" stroke-linecap="butt"/>
<line x1="657.6" y1="374.4" x2="657.6" y2="412.8" stroke="#1c1c1c" stroke-width="1.84" stroke-linecap="butt"/>
<line x1="652.8" y1="355" x2="652.8" y2="373" stroke="#1c1c1c" stroke-width="1.49" stroke-linecap="butt"/>
<path d="M544,344 L544,364.8 L572.8,364.8 L572.8,387.2" fill="none" stroke="#1c1c1c" stroke-width="3.68" />
<line x1="773.6" y1="355.2" x2="763.8" y2="376" stroke="#1c1c1c" stroke-width="1.84" stroke-linecap="butt"/>
<line x1="763.8" y1="376" x2="763.8" y2="412.4" stroke="#1c1c1c" stroke-width="1.84" stroke-linecap="butt"/>
<rect x="677" y="382.4" width="72" height="30.4" fill="#fff" stroke="#1c1c1c" stroke-width="1.95" />
<path d="M692.8,384 L692.8,401.6 L732.8,401.6 L732.8,384" fill="none" stroke="#1c1c1c" stroke-width="1.49" />
<path d="M692.8,401.6 L679,412.8 M732.8,401.6 L747,412.8" fill="none" stroke="#1c1c1c" stroke-width="1.49" />
<path d="M692.8,384 L731,384 L731,386 Q705,387 696,398 L692.8,401 Z" fill="#1c1c1c" />
<text x="705.6" y="379.2" font-family="Liberation Sans" font-size="24.6" font-style="italic" font-weight="bold" fill="#1c1c1c" textLength="10.399999999999977" lengthAdjust="spacingAndGlyphs">1</text>
<line x1="438.6" y1="410" x2="438.6" y2="426" stroke="#1c1c1c" stroke-width="1.61" stroke-linecap="butt"/>
<line x1="796" y1="340" x2="796" y2="489" stroke="#1c1c1c" stroke-width="2.07" stroke-linecap="butt"/>
<line x1="859" y1="301" x2="859" y2="489" stroke="#1c1c1c" stroke-width="2.07" stroke-linecap="butt"/>
<path d="M874,414 L874,489 L859,489 L859,414 Z" fill="url(#h6)" stroke="#1c1c1c" stroke-width="1.84" />
<text x="823" y="373.5" font-family="Liberation Sans" font-size="23.0" font-style="italic" font-weight="bold" fill="#1c1c1c" textLength="15" lengthAdjust="spacingAndGlyphs">2</text>
<text x="817" y="456" font-family="Liberation Sans" font-size="20.9" font-style="italic" font-weight="bold" fill="#1c1c1c" textLength="15" lengthAdjust="spacingAndGlyphs">3</text>
<path d="M885,338.5 L914,338.5 L914,394.5 L861.5,394.5 L861.5,362 Z" fill="url(#x10b)" stroke="#1c1c1c" stroke-width="2.07" />
<line x1="923" y1="300" x2="923" y2="394" stroke="#1c1c1c" stroke-width="1.61" stroke-linecap="butt"/>
<rect x="790" y="394.5" width="165" height="18" fill="#fff" stroke="#1c1c1c" stroke-width="2.07" />
<rect x="796" y="398" width="72" height="11" fill="url(#x10b)" stroke="#1c1c1c" stroke-width="1.38" />
<line x1="868" y1="400" x2="950" y2="400" stroke="#1c1c1c" stroke-width="1.38" stroke-linecap="butt"/>
<line x1="868" y1="404" x2="950" y2="404" stroke="#1c1c1c" stroke-width="1.38" stroke-linecap="butt"/>
<line x1="868" y1="408" x2="950" y2="408" stroke="#1c1c1c" stroke-width="1.38" stroke-linecap="butt"/>
<rect x="946" y="372" width="33" height="42" fill="#fff" stroke="#1c1c1c" stroke-width="2.07" />
<rect x="952" y="380" width="27" height="34" fill="#fff" stroke="#1c1c1c" stroke-width="1.61" />
<circle cx="964" cy="397.5" r="9" fill="#fff" stroke="#1c1c1c" stroke-width="2.07"/>
<text x="931" y="360" font-family="Liberation Sans" font-size="20.9" font-style="italic" font-weight="bold" fill="#1c1c1c" textLength="9" lengthAdjust="spacingAndGlyphs">1</text>
<line x1="907" y1="301" x2="907" y2="338" stroke="#1c1c1c" stroke-width="1.61" stroke-linecap="butt"/>
<line x1="916" y1="338" x2="916" y2="394" stroke="#1c1c1c" stroke-width="1.38" stroke-linecap="butt"/>
<line x1="534" y1="486" x2="568" y2="486" stroke="#1c1c1c" stroke-width="1.61" stroke-linecap="butt"/>
<path d="M556,482 L570,486 L556,490 Z" fill="#1c1c1c" />
<rect x="570.5" y="463.5" width="6" height="36" fill="#1c1c1c" rx="1.5" />
<text x="580" y="498" font-family="Liberation Sans" font-size="23.7" font-style="italic" font-weight="bold" fill="#1c1c1c" textLength="12.5" lengthAdjust="spacingAndGlyphs">б</text>
<text x="636.8" y="515.6" font-family="Liberation Sans" font-size="25.7" font-style="italic" font-weight="bold" fill="#1c1c1c" textLength="47.200000000000045" lengthAdjust="spacingAndGlyphs">α–α</text>
<line x1="629.6" y1="519.6" x2="687" y2="519.6" stroke="#1c1c1c" stroke-width="3.22" stroke-linecap="butt"/>
<rect x="490" y="548" width="398" height="29" fill="url(#h12)" />
<rect x="490" y="577" width="398" height="20" fill="#fff" />
<rect x="490" y="577" width="41" height="20" fill="url(#h12)" />
<rect x="490" y="597" width="398" height="41" fill="url(#x15)" />
<rect x="490" y="787" width="398" height="41" fill="url(#x15)" />
<rect x="490" y="828" width="398" height="20" fill="#fff" />
<rect x="490" y="828" width="41" height="20" fill="url(#h12)" />
<rect x="490" y="848" width="398" height="20" fill="url(#h12)" />
<rect x="844.5" y="638" width="43.5" height="149" fill="url(#x15)" />
<line x1="490" y1="577" x2="888" y2="577" stroke="#1c1c1c" stroke-width="2.07" stroke-linecap="butt"/>
<line x1="490" y1="597" x2="888" y2="597" stroke="#1c1c1c" stroke-width="2.07" stroke-linecap="butt"/>
<line x1="490" y1="638" x2="888" y2="638" stroke="#1c1c1c" stroke-width="2.07" stroke-linecap="butt"/>
<line x1="490" y1="787" x2="888" y2="787" stroke="#1c1c1c" stroke-width="2.07" stroke-linecap="butt"/>
<line x1="490" y1="828" x2="888" y2="828" stroke="#1c1c1c" stroke-width="2.07" stroke-linecap="butt"/>
<line x1="490" y1="848" x2="888" y2="848" stroke="#1c1c1c" stroke-width="2.07" stroke-linecap="butt"/>
<line x1="531" y1="577" x2="531" y2="597" stroke="#1c1c1c" stroke-width="1.61" stroke-linecap="butt"/>
<line x1="531" y1="828" x2="531" y2="848" stroke="#1c1c1c" stroke-width="1.61" stroke-linecap="butt"/>
<rect x="490" y="548" width="398" height="320" fill="none" stroke="#1c1c1c" stroke-width="2.3" />
<rect x="490" y="638" width="354.5" height="149" fill="#fff" stroke="#1c1c1c" stroke-width="2.07" />
<line x1="496" y1="638" x2="496" y2="787" stroke="#1c1c1c" stroke-width="1.72" stroke-linecap="butt"/>
<rect x="541.1" y="640" width="3.8" height="146" fill="#1c1c1c" rx="1" />
<rect x="601.1" y="640" width="3.8" height="146" fill="#1c1c1c" rx="1" />
<rect x="658.1" y="640" width="3.8" height="146" fill="#1c1c1c" rx="1" />
<rect x="716.1" y="640" width="3.8" height="146" fill="#1c1c1c" rx="1" />
<line x1="775.7" y1="540" x2="775.7" y2="868" stroke="#1c1c1c" stroke-width="1.84" stroke-linecap="butt"/>
<line x1="789.3" y1="540" x2="789.3" y2="868" stroke="#1c1c1c" stroke-width="1.84" stroke-linecap="butt"/>
<line x1="782.5" y1="540" x2="782.5" y2="868" stroke="#777" stroke-width="1.03" stroke-dasharray="8,2,2,2" stroke-linecap="butt"/>
<rect x="771" y="539" width="22" height="9" fill="#fff" stroke="#1c1c1c" stroke-width="1.61" />
<line x1="782.5" y1="532" x2="782.5" y2="540" stroke="#1c1c1c" stroke-width="1.61" stroke-linecap="butt"/>
<rect x="566" y="542.5" width="42" height="6" fill="#fff" stroke="#1c1c1c" stroke-width="1.84" />
<rect x="689.5" y="542.5" width="40.5" height="6" fill="#fff" stroke="#1c1c1c" stroke-width="1.84" />
<line x1="574" y1="548" x2="574" y2="646" stroke="#1c1c1c" stroke-width="1.26" stroke-dasharray="5,3" stroke-linecap="butt"/>
<line x1="601" y1="548" x2="601" y2="646" stroke="#1c1c1c" stroke-width="1.26" stroke-dasharray="5,3" stroke-linecap="butt"/>
<line x1="698" y1="548" x2="698" y2="646" stroke="#1c1c1c" stroke-width="1.26" stroke-dasharray="5,3" stroke-linecap="butt"/>
<line x1="723" y1="548" x2="723" y2="646" stroke="#1c1c1c" stroke-width="1.26" stroke-dasharray="5,3" stroke-linecap="butt"/>
<line x1="588" y1="540" x2="588" y2="650" stroke="#1c1c1c" stroke-width="1.03" stroke-dasharray="8,2,2,2" stroke-linecap="butt"/>
<line x1="710" y1="540" x2="710" y2="650" stroke="#1c1c1c" stroke-width="1.03" stroke-dasharray="8,2,2,2" stroke-linecap="butt"/>
<rect x="790" y="640" width="54.5" height="147.5" fill="#fff" stroke="#1c1c1c" stroke-width="2.07" />
<line x1="790" y1="645" x2="844.5" y2="645" stroke="#1c1c1c" stroke-width="1.72" stroke-linecap="butt"/>
<line x1="790" y1="650.5" x2="844.5" y2="650.5" stroke="#1c1c1c" stroke-width="1.72" stroke-linecap="butt"/>
<line x1="790" y1="656" x2="844.5" y2="656" stroke="#1c1c1c" stroke-width="1.72" stroke-linecap="butt"/>
<line x1="790" y1="661.5" x2="844.5" y2="661.5" stroke="#1c1c1c" stroke-width="1.72" stroke-linecap="butt"/>
<line x1="790" y1="667.5" x2="844.5" y2="667.5" stroke="#1c1c1c" stroke-width="1.72" stroke-linecap="butt"/>
<line x1="790" y1="758" x2="844.5" y2="758" stroke="#1c1c1c" stroke-width="1.72" stroke-linecap="butt"/>
<line x1="790" y1="763.5" x2="844.5" y2="763.5" stroke="#1c1c1c" stroke-width="1.72" stroke-linecap="butt"/>
<line x1="790" y1="769" x2="844.5" y2="769" stroke="#1c1c1c" stroke-width="1.72" stroke-linecap="butt"/>
<line x1="790" y1="774.5" x2="844.5" y2="774.5" stroke="#1c1c1c" stroke-width="1.72" stroke-linecap="butt"/>
<line x1="790" y1="780.5" x2="844.5" y2="780.5" stroke="#1c1c1c" stroke-width="1.72" stroke-linecap="butt"/>
<line x1="790" y1="754" x2="844.5" y2="754" stroke="#1c1c1c" stroke-width="2.53" stroke-linecap="butt"/>
<line x1="790" y1="667.6" x2="844.5" y2="667.6" stroke="#1c1c1c" stroke-width="2.53" stroke-linecap="butt"/>
<rect x="815" y="667.6" width="5" height="86.4" fill="#aaa" stroke="#1c1c1c" stroke-width="1.38" />
<rect x="790" y="709.5" width="54.5" height="5" fill="#aaa" stroke="#1c1c1c" stroke-width="1.38" />
<rect x="815" y="709.5" width="5" height="5" fill="#aaa" />
<text x="794" y="698" font-family="Liberation Sans" font-size="23.7" font-style="italic" font-weight="bold" fill="#1c1c1c" textLength="12" lengthAdjust="spacingAndGlyphs">2</text>
<rect x="844.5" y="684.6" width="43.5" height="52.7" fill="#fff" stroke="#1c1c1c" stroke-width="2.07" />
<rect x="888" y="689" width="6.5" height="46" fill="#fff" stroke="#1c1c1c" stroke-width="1.61" />
<line x1="861.5" y1="684.6" x2="861.5" y2="737.3" stroke="#1c1c1c" stroke-width="1.61" stroke-linecap="butt"/>
<text x="866" y="722" font-family="Liberation Sans" font-size="20.9" font-style="italic" font-weight="bold" fill="#1c1c1c" textLength="10" lengthAdjust="spacingAndGlyphs">1</text>
<rect x="460" y="636" width="30" height="148" fill="#fff" stroke="#1c1c1c" stroke-width="1.84" />
<rect x="471" y="644" width="14.6" height="135" fill="#fff" stroke="#1c1c1c" stroke-width="1.72" />
<line x1="463" y1="638" x2="463" y2="782" stroke="#1c1c1c" stroke-width="1.49" stroke-linecap="butt"/>
<line x1="483.6" y1="638" x2="483.6" y2="782" stroke="#1c1c1c" stroke-width="1.49" stroke-linecap="butt"/>
<line x1="495.5" y1="638" x2="495.5" y2="782" stroke="#1c1c1c" stroke-width="1.49" stroke-linecap="butt"/>
<ellipse cx="467.5" cy="674" rx="3" ry="2.3" fill="#fff" stroke="#1c1c1c" stroke-width="1.4"/>
<ellipse cx="474" cy="674" rx="3" ry="2.3" fill="#fff" stroke="#1c1c1c" stroke-width="1.4"/>
<ellipse cx="489.6" cy="674" rx="2.6" ry="2.3" fill="#fff" stroke="#1c1c1c" stroke-width="1.4"/>
<ellipse cx="467.5" cy="751.6" rx="3" ry="2.3" fill="#fff" stroke="#1c1c1c" stroke-width="1.4"/>
<ellipse cx="474" cy="751.6" rx="3" ry="2.3" fill="#fff" stroke="#1c1c1c" stroke-width="1.4"/>
<ellipse cx="489.6" cy="751.6" rx="2.6" ry="2.3" fill="#fff" stroke="#1c1c1c" stroke-width="1.4"/>
<rect x="486" y="628" width="10" height="14" fill="#1c1c1c" />
<rect x="486" y="779" width="10" height="12" fill="#1c1c1c" />
<rect x="133" y="654" width="323" height="113" fill="#fff" stroke="#1c1c1c" stroke-width="2.07" />
<rect x="140" y="660" width="316" height="7" fill="#fff" stroke="#1c1c1c" stroke-width="1.49" />
<rect x="140" y="670" width="316" height="5" fill="#fff" stroke="#1c1c1c" stroke-width="1.49" />
<rect x="140" y="745" width="316" height="7" fill="#fff" stroke="#1c1c1c" stroke-width="1.49" />
<rect x="140" y="755" width="316" height="7" fill="#fff" stroke="#1c1c1c" stroke-width="1.49" />
<line x1="140" y1="654" x2="140" y2="767" stroke="#1c1c1c" stroke-width="1.61" stroke-linecap="butt"/>
<line x1="144" y1="654" x2="144" y2="767" stroke="#1c1c1c" stroke-width="1.61" stroke-linecap="butt"/>
<line x1="150" y1="654" x2="150" y2="767" stroke="#1c1c1c" stroke-width="1.61" stroke-linecap="butt"/>
<line x1="158" y1="675" x2="158" y2="745" stroke="#1c1c1c" stroke-width="1.61" stroke-linecap="butt"/>
<line x1="173" y1="675" x2="173" y2="715" stroke="#1c1c1c" stroke-width="1.61" stroke-linecap="butt"/>
<line x1="185" y1="675" x2="185" y2="715" stroke="#1c1c1c" stroke-width="1.61" stroke-linecap="butt"/>
<rect x="152" y="661" width="5" height="5" fill="#fff" stroke="#1c1c1c" stroke-width="1.15" />
<rect x="152" y="756" width="5" height="5" fill="#fff" stroke="#1c1c1c" stroke-width="1.15" />
<rect x="161" y="661" width="5" height="5" fill="#fff" stroke="#1c1c1c" stroke-width="1.15" />
<rect x="161" y="756" width="5" height="5" fill="#fff" stroke="#1c1c1c" stroke-width="1.15" />
<rect x="169" y="661" width="5" height="5" fill="#fff" stroke="#1c1c1c" stroke-width="1.15" />
<rect x="169" y="756" width="5" height="5" fill="#fff" stroke="#1c1c1c" stroke-width="1.15" />
<rect x="177" y="661" width="5" height="5" fill="#fff" stroke="#1c1c1c" stroke-width="1.15" />
<rect x="177" y="756" width="5" height="5" fill="#fff" stroke="#1c1c1c" stroke-width="1.15" />
<rect x="185" y="661" width="5" height="5" fill="#fff" stroke="#1c1c1c" stroke-width="1.15" />
<rect x="185" y="756" width="5" height="5" fill="#fff" stroke="#1c1c1c" stroke-width="1.15" />
<rect x="159" y="715" width="30" height="29" fill="#fff" stroke="#1c1c1c" stroke-width="1.84" />
<path d="M189,720 Q193,725 193,731 Q193,737 189,741" fill="none" stroke="#1c1c1c" stroke-width="1.84" />
<line x1="234" y1="672" x2="234" y2="750" stroke="#1c1c1c" stroke-width="1.38" stroke-linecap="butt"/>
<path d="M231,680 L234,672 L237,680" fill="none" stroke="#1c1c1c" stroke-width="1.26" />
<path d="M231,742 L234,750 L237,742" fill="none" stroke="#1c1c1c" stroke-width="1.26" />
<line x1="225" y1="672" x2="245" y2="672" stroke="#1c1c1c" stroke-width="1.15" stroke-linecap="butt"/>
<line x1="225" y1="750" x2="245" y2="750" stroke="#1c1c1c" stroke-width="1.15" stroke-linecap="butt"/>
<text transform="translate(226,734) rotate(-90)" x="0" y="0" font-family="Liberation Sans" font-size="22" font-style="italic" font-weight="bold" fill="#1c1c1c" textLength="40" lengthAdjust="spacingAndGlyphs">700</text>
<rect x="80" y="713" width="54" height="40" fill="#fff" stroke="#1c1c1c" stroke-width="2.07" />
<rect x="89" y="722" width="34" height="23" fill="#555" stroke="#1c1c1c" stroke-width="2.07" rx="5" />
<rect x="94" y="728" width="23" height="10" fill="#fff" stroke="#1c1c1c" stroke-width="2.07" rx="3" />
<rect x="100" y="704" width="12" height="9" fill="#fff" stroke="#1c1c1c" stroke-width="1.84" />
<line x1="96" y1="708" x2="116" y2="708" stroke="#1c1c1c" stroke-width="1.38" stroke-linecap="butt"/>
<line x1="84" y1="717" x2="130" y2="717" stroke="#1c1c1c" stroke-width="1.15" stroke-linecap="butt"/>
<line x1="84" y1="749" x2="130" y2="749" stroke="#1c1c1c" stroke-width="1.15" stroke-linecap="butt"/>
<rect x="126" y="718" width="8" height="30" fill="#fff" stroke="#1c1c1c" stroke-width="1.38" />
<rect x="313" y="649" width="143" height="28" fill="none" stroke="#1c1c1c" stroke-width="1.84" />
<line x1="313" y1="649" x2="313" y2="780" stroke="#1c1c1c" stroke-width="1.61" stroke-linecap="butt"/>
<rect x="316" y="648" width="5" height="4" fill="#fff" stroke="#1c1c1c" stroke-width="1.15" />
<rect x="294" y="622" width="22" height="22" fill="#fff" stroke="#1c1c1c" stroke-width="1.84" />
<path d="M300,628 L300,638 M310,628 L310,638 M300,633 L310,633" fill="none" stroke="#1c1c1c" stroke-width="1.72" />
<rect x="436" y="623" width="22" height="22" fill="#fff" stroke="#1c1c1c" stroke-width="1.84" />
<path d="M442,629 L442,639 M452,629 L452,639 M442,634 L452,634" fill="none" stroke="#1c1c1c" stroke-width="1.72" />
<rect x="293" y="778" width="22" height="22" fill="#fff" stroke="#1c1c1c" stroke-width="1.84" />
<path d="M299,784 L299,794 M309,784 L309,794 M299,789 L309,789" fill="none" stroke="#1c1c1c" stroke-width="1.72" />
<rect x="436" y="779" width="22" height="22" fill="#fff" stroke="#1c1c1c" stroke-width="1.84" />
<path d="M442,785 L442,795 M452,785 L452,795 M442,790 L452,790" fill="none" stroke="#1c1c1c" stroke-width="1.72" />
<path d="M326,726 Q328,722.4 334,722.4 L382,722.4 Q388,722.4 388.4,727 L388.4,732 L326,732 Z" fill="#484848" stroke="#1c1c1c" stroke-width="1.38" />
<rect x="317" y="733.6" width="87" height="12.8" fill="#fff" stroke="#1c1c1c" stroke-width="1.72" />
<rect x="383.6" y="730" width="5.4" height="42" fill="#444" stroke="#1c1c1c" stroke-width="1.38" rx="2" />
<rect x="404.5" y="730" width="5.5" height="42" fill="#444" stroke="#1c1c1c" stroke-width="1.38" rx="2" />
<line x1="391" y1="733" x2="405" y2="733" stroke="#1c1c1c" stroke-width="1.49" stroke-linecap="butt"/>
<line x1="411" y1="733.6" x2="454" y2="717.6" stroke="#1c1c1c" stroke-width="1.61" stroke-linecap="butt"/>
<line x1="412" y1="770" x2="431.6" y2="777" stroke="#1c1c1c" stroke-width="1.49" stroke-linecap="butt"/>
<rect x="441" y="708" width="13" height="8" fill="#fff" stroke="#1c1c1c" stroke-width="1.49" />
<rect x="317" y="770" width="113" height="44" fill="#fff" stroke="#1c1c1c" stroke-width="1.84" />
<path d="M332,770 L332,808 L380,808 L380,770" fill="none" stroke="#1c1c1c" stroke-width="2.07" />
<path d="M338,770 L338,800 Q340,804 348,804 L364,804 Q372,804 374,800 L374,770" fill="none" stroke="#1c1c1c" stroke-width="2.07" />
<line x1="356" y1="716" x2="356" y2="812" stroke="#1c1c1c" stroke-width="1.15" stroke-dasharray="8,2,2,2" stroke-linecap="butt"/>
<rect x="456.5" y="636" width="5.5" height="148" fill="#fff" stroke="#1c1c1c" stroke-width="1.84" />
<text x="294" y="863.8" font-family="Liberation Sans" font-size="25.3" font-style="italic" font-weight="bold" fill="#1c1c1c" textLength="44" lengthAdjust="spacingAndGlyphs">б–б</text>
<line x1="284" y1="868.6" x2="339" y2="868.6" stroke="#1c1c1c" stroke-width="3.22" stroke-linecap="butt"/>
<line x1="163" y1="914" x2="461.6" y2="914" stroke="#1c1c1c" stroke-width="1.49" stroke-linecap="butt"/>
<path d="M163,914 L176,911 L176,917 Z" fill="#1c1c1c" />
<path d="M461.6,914 L448.6,911 L448.6,917 Z" fill="#1c1c1c" />
<line x1="163" y1="907" x2="163" y2="954" stroke="#1c1c1c" stroke-width="1.49" stroke-linecap="butt"/>
<line x1="461.6" y1="907" x2="461.6" y2="954" stroke="#1c1c1c" stroke-width="1.49" stroke-linecap="butt"/>
<text x="292.5" y="907" font-family="Liberation Sans" font-size="25.8" font-style="italic" font-weight="bold" fill="#1c1c1c" textLength="53.30000000000001" lengthAdjust="spacingAndGlyphs">2420</text>
<path d="M163,954 L461.6,954 L461.6,1068 L476,1068 L476,1081 L492,1081 L492,1320 L126,1320 L126,1257 L131,1257 L131,1080 L147,1080 L147,1065 L163,1065 Z" fill="url(#h10)" stroke="#1c1c1c" stroke-width="2.3" />
<line x1="496.5" y1="1081" x2="496.5" y2="1322" stroke="#1c1c1c" stroke-width="2.07" stroke-linecap="butt"/>
<line x1="492" y1="1081" x2="496.5" y2="1081" stroke="#1c1c1c" stroke-width="1.72" stroke-linecap="butt"/>
<rect x="191" y="965" width="240.5" height="172" fill="#fff" />
<path d="M191,1099 L187,1101 L187,1104 L183,1106 L183,1109 L179,1111 L179,1114 L175,1116 L175,1119 L170,1121 L163,1123 L163,1160 L191,1160 Z" fill="#fff" stroke="#1c1c1c" stroke-width="1.84" />
<path d="M431.5,1099 L435,1101 L435,1104 L439,1106 L439,1109 L443,1111 L443,1114 L447,1116 L447,1119 L451,1121 L455,1124 L459,1126 L466,1130 L466,1160 L431.5,1160 Z" fill="#fff" stroke="#1c1c1c" stroke-width="1.84" />
<rect x="184" y="1135" width="257" height="96" fill="#fff" />
<rect x="230" y="1231" width="164.6" height="54" fill="#fff" />
<path d="M130,1263 L197,1263 L230,1263 L230,1285 L227,1285 L197,1278 L130,1278 Z" fill="#fff" stroke="#1c1c1c" stroke-width="1.84" />
<line x1="197" y1="1263" x2="197" y2="1278" stroke="#1c1c1c" stroke-width="1.61" stroke-linecap="butt"/>
<line x1="230" y1="1285" x2="394.6" y2="1285" stroke="#1c1c1c" stroke-width="2.07" stroke-linecap="butt"/>
<line x1="230" y1="1231" x2="230" y2="1285" stroke="#1c1c1c" stroke-width="1.84" stroke-linecap="butt"/>
<line x1="394.6" y1="1231" x2="394.6" y2="1303" stroke="#1c1c1c" stroke-width="1.84" stroke-linecap="butt"/>
<path d="M115,1320 L230.8,1320 L230.8,1303 L394.6,1303 L394.6,1320 L507,1320 L507,1340 L115,1340 Z" fill="url(#conc)" stroke="#1c1c1c" stroke-width="2.3" />
<rect x="115" y="1340" width="392" height="6" fill="url(#gnd)" />
<line x1="118" y1="1296" x2="126" y2="1296" stroke="#1c1c1c" stroke-width="1.61" stroke-linecap="butt"/>
<line x1="118" y1="1296" x2="118" y2="1318" stroke="#1c1c1c" stroke-width="1.38" stroke-linecap="butt"/>
<rect x="160" y="1160" width="24.5" height="101" fill="#fff" stroke="#1c1c1c" stroke-width="1.84" />
<path d="M163,1163 L181.5,1258 M181.5,1163 L163,1258" fill="none" stroke="#1c1c1c" stroke-width="1.15" />
<rect x="160" y="1160" width="24.5" height="4" fill="#1c1c1c" />
<rect x="441" y="1160" width="24" height="114" fill="#fff" stroke="#1c1c1c" stroke-width="1.84" />
<path d="M444,1163 L462,1271 M462,1163 L444,1271" fill="none" stroke="#1c1c1c" stroke-width="1.15" />
<rect x="441" y="1160" width="24" height="4" fill="#1c1c1c" />
<rect x="161.5" y="1284" width="22" height="19" fill="#fff" stroke="#1c1c1c" stroke-width="1.72" stroke-dasharray="5,3"/>
<rect x="441" y="1274" width="24" height="28.6" fill="#fff" stroke="#1c1c1c" stroke-width="1.72" stroke-dasharray="5,3"/>
<path d="M203.6,1137 L232,1137 L232,1230.5 L185.6,1230.5 L185.6,1155 Z" fill="url(#x10b)" stroke="#1c1c1c" stroke-width="2.07" />
<path d="M390,1136.5 L432,1136.5 L443,1155 L441,1232 L390,1232 Z" fill="url(#x10b)" stroke="#1c1c1c" stroke-width="2.07" />
<rect x="188" y="1162" width="40" height="21" fill="#fff" rx="3" />
<rect x="396" y="1162" width="41" height="21" fill="#fff" rx="3" />
<rect x="178" y="954.5" width="268" height="10.5" fill="url(#x10)" stroke="#1c1c1c" stroke-width="2.07" />
<rect x="294.5" y="948" width="34.5" height="20" fill="url(#x10)" stroke="#1c1c1c" stroke-width="2.07" />
<path d="M195,965 L195,1122 Q195,1132 205,1132 L423,1132 Q430,1132 430,1122 L430,965" fill="none" stroke="#1c1c1c" stroke-width="2.07" />
<path d="M200,970 L200,1118 Q200,1127 209,1127 L306,1127 Q312,1127 312,1120 M318,1120 Q318,1127 325,1127 L418,1127 Q425,1127 425,1118 L425,970" fill="none" stroke="#1c1c1c" stroke-width="1.84" />
<rect x="424" y="966" width="6" height="160" fill="#777" />
<rect x="192" y="966" width="7" height="158" fill="#8a8a8a" />
<line x1="184" y1="1136" x2="441" y2="1136" stroke="#1c1c1c" stroke-width="2.53" stroke-linecap="butt"/>
<rect x="309" y="968" width="12" height="157" fill="#888" />
<line x1="310" y1="968" x2="310" y2="1124" stroke="#1c1c1c" stroke-width="2.3" stroke-linecap="butt"/>
<line x1="320" y1="968" x2="320" y2="1124" stroke="#1c1c1c" stroke-width="2.3" stroke-linecap="butt"/>
<line x1="315" y1="968" x2="315" y2="1124" stroke="#333" stroke-width="1.15" stroke-linecap="butt"/>
<rect x="326.5" y="980" width="10" height="132" rx="5.0" fill="#fff" stroke="#1c1c1c" stroke-width="2.4"/>
<rect x="293.5" y="980" width="10" height="132" rx="5.0" fill="#fff" stroke="#1c1c1c" stroke-width="2.4"/>
<rect x="347.5" y="980" width="10" height="34" rx="5.0" fill="#fff" stroke="#1c1c1c" stroke-width="2.4"/>
<rect x="347.5" y="1055" width="10" height="57" rx="5.0" fill="#fff" stroke="#1c1c1c" stroke-width="2.4"/>
<rect x="272.5" y="980" width="10" height="34" rx="5.0" fill="#fff" stroke="#1c1c1c" stroke-width="2.4"/>
<rect x="272.5" y="1055" width="10" height="57" rx="5.0" fill="#fff" stroke="#1c1c1c" stroke-width="2.4"/>
<rect x="366.0" y="980" width="10" height="50" rx="5.0" fill="#fff" stroke="#1c1c1c" stroke-width="2.4"/>
<rect x="366.0" y="1069" width="10" height="43" rx="5.0" fill="#fff" stroke="#1c1c1c" stroke-width="2.4"/>
<rect x="254.0" y="980" width="10" height="50" rx="5.0" fill="#fff" stroke="#1c1c1c" stroke-width="2.4"/>
<rect x="254.0" y="1069" width="10" height="43" rx="5.0" fill="#fff" stroke="#1c1c1c" stroke-width="2.4"/>
<rect x="386.0" y="980" width="10" height="62" rx="5.0" fill="#fff" stroke="#1c1c1c" stroke-width="2.4"/>
<rect x="386.0" y="1083" width="10" height="29" rx="5.0" fill="#fff" stroke="#1c1c1c" stroke-width="2.4"/>
<rect x="234.0" y="980" width="10" height="62" rx="5.0" fill="#fff" stroke="#1c1c1c" stroke-width="2.4"/>
<rect x="234.0" y="1083" width="10" height="29" rx="5.0" fill="#fff" stroke="#1c1c1c" stroke-width="2.4"/>
<rect x="405.0" y="980" width="10" height="132" rx="5.0" fill="#fff" stroke="#1c1c1c" stroke-width="2.4"/>
<rect x="215.0" y="980" width="10" height="132" rx="5.0" fill="#fff" stroke="#1c1c1c" stroke-width="2.4"/>
<path d="M205,975 L205,1115 M283,1055 L283,1118 M290,1020 L290,1075" fill="none" stroke="#1c1c1c" stroke-width="2.3" />
<path d="M425,975 L425,1115 M347,1055 L347,1118 M340,1020 L340,1075" fill="none" stroke="#1c1c1c" stroke-width="2.3" />
<path d="M233,989 L233,1114 M397,989 L397,1114" fill="none" stroke="#1c1c1c" stroke-width="2.76" />
<path d="M295,1021 L233,1066" fill="none" stroke="#1c1c1c" stroke-width="2.18" stroke-dasharray="8,3"/>
<line x1="297" y1="1025" x2="235" y2="1070" stroke="#1c1c1c" stroke-width="1.49" stroke-linecap="butt"/>
<path d="M335,1021 L397,1066" fill="none" stroke="#1c1c1c" stroke-width="2.18" stroke-dasharray="8,3"/>
<line x1="333" y1="1025" x2="395" y2="1070" stroke="#1c1c1c" stroke-width="1.49" stroke-linecap="butt"/>
<circle cx="284" cy="968" r="10" fill="#aaa" stroke="#1c1c1c" stroke-width="2.3"/>
<circle cx="284" cy="968" r="6.5" fill="none" stroke="#1c1c1c" stroke-width="1.61"/>
<circle cx="284" cy="968" r="3" fill="none" stroke="#1c1c1c" stroke-width="1.38"/>
<circle cx="339.6" cy="968" r="10" fill="#aaa" stroke="#1c1c1c" stroke-width="2.3"/>
<circle cx="339.6" cy="968" r="6.5" fill="none" stroke="#1c1c1c" stroke-width="1.61"/>
<circle cx="339.6" cy="968" r="3" fill="none" stroke="#1c1c1c" stroke-width="1.38"/>
<circle cx="225" cy="1124.5" r="10" fill="#aaa" stroke="#1c1c1c" stroke-width="2.3"/>
<circle cx="225" cy="1124.5" r="6.5" fill="none" stroke="#1c1c1c" stroke-width="1.61"/>
<circle cx="225" cy="1124.5" r="3" fill="none" stroke="#1c1c1c" stroke-width="1.38"/>
<circle cx="399" cy="1124.5" r="10" fill="#aaa" stroke="#1c1c1c" stroke-width="2.3"/>
<circle cx="399" cy="1124.5" r="6.5" fill="none" stroke="#1c1c1c" stroke-width="1.61"/>
<circle cx="399" cy="1124.5" r="3" fill="none" stroke="#1c1c1c" stroke-width="1.38"/>
<path d="M271.6,1156.5 A52,52 0 0,1 352.4,1155.7 L343,1166 A40,40 0 0,0 281,1166 Z" fill="#fff" stroke="#1c1c1c" stroke-width="1.8"/>
<path d="M282,1166 L282,1203.3 L343,1203.3 L343,1166" fill="none" stroke="#1c1c1c" stroke-width="2.07" />
<line x1="313.3" y1="1136" x2="313.3" y2="1160" stroke="#1c1c1c" stroke-width="1.15" stroke-linecap="butt"/>
<line x1="215" y1="1184.6" x2="440" y2="1184.6" stroke="#1c1c1c" stroke-width="1.61" stroke-linecap="butt"/>
<path d="M233,1184.6 L245,1182 L245,1187 Z" fill="#1c1c1c" />
<path d="M396,1184.6 L384,1182 L384,1187 Z" fill="#1c1c1c" />
<text x="189" y="1182" font-family="Liberation Sans" font-size="25.1" font-style="italic" font-weight="bold" fill="#1c1c1c" textLength="36" lengthAdjust="spacingAndGlyphs">375</text>
<text x="235" y="1182" font-family="Liberation Sans" font-size="23.7" font-style="italic" font-weight="bold" fill="#1c1c1c" textLength="44" lengthAdjust="spacingAndGlyphs">1320</text>
<text x="398" y="1181.6" font-family="Liberation Sans" font-size="24.6" font-style="italic" font-weight="bold" fill="#1c1c1c" textLength="38" lengthAdjust="spacingAndGlyphs">375</text>
<line x1="232" y1="1213.5" x2="392" y2="1213.5" stroke="#1c1c1c" stroke-width="1.84" stroke-dasharray="8,4" stroke-linecap="butt"/>
<path d="M230,1212.6 L254,1212.6 L250,1223.7 L230,1223.7 Z" fill="#1c1c1c" />
<path d="M299.7,1212.6 L327,1212.6 L321,1225 L305,1225 Z" fill="#1c1c1c" />
<path d="M372.8,1212.6 L395,1212.6 L395,1223.7 L377,1223.7 Z" fill="#1c1c1c" />
<line x1="230" y1="1227" x2="394.6" y2="1227" stroke="#1c1c1c" stroke-width="1.84" stroke-linecap="butt"/>
<line x1="230" y1="1232" x2="394.6" y2="1232" stroke="#1c1c1c" stroke-width="2.07" stroke-linecap="butt"/>
<rect x="355" y="1243" width="37" height="42" fill="#fff" stroke="#1c1c1c" stroke-width="2.3" />
<path d="M358,1280 L382,1248 L388,1248 L364,1280 Z" fill="#fff" stroke="#1c1c1c" stroke-width="1.38" />
<path d="M362,1281 L388,1276 L388,1283 Z" fill="#1c1c1c" />
<line x1="313.3" y1="1136" x2="313.3" y2="1345" stroke="#1c1c1c" stroke-width="1.15" stroke-dasharray="10,3,2,3" stroke-linecap="butt"/>
<circle cx="514" cy="1115" r="1.1" fill="#555"/>
<circle cx="742" cy="1174" r="1.0" fill="#666"/>
<ellipse cx="276.5" cy="497.4" rx="1.9" ry="1.2" fill="#333" transform="rotate(81 276.5 497.4)"/>
<circle cx="457.0" cy="484.5" r="2.1" fill="#1c1c1c"/>
<ellipse cx="213.3" cy="466.0" rx="2.1" ry="1.0" fill="#333" transform="rotate(76 213.3 466.0)"/>
<circle cx="452.7" cy="461.3" r="1.4" fill="#1c1c1c"/>
<ellipse cx="571.4" cy="429.6" rx="2.8" ry="0.9" fill="#333" transform="rotate(60 571.4 429.6)"/>
<ellipse cx="223.7" cy="482.6" rx="2.4" ry="1.1" fill="#333" transform="rotate(31 223.7 482.6)"/>
<circle cx="697.9" cy="434.3" r="2.4" fill="#fff" stroke="#1c1c1c" stroke-width="1.15"/>
<circle cx="529.4" cy="431.0" r="2.0" fill="#fff" stroke="#1c1c1c" stroke-width="1.15"/>
<ellipse cx="208.2" cy="412.0" rx="1.9" ry="0.9" fill="#333" transform="rotate(112 208.2 412.0)"/>
<circle cx="212.2" cy="450.1" r="1.4" fill="#1c1c1c"/>
<circle cx="261.6" cy="502.7" r="1.8" fill="#fff" stroke="#1c1c1c" stroke-width="1.15"/>
<circle cx="210.6" cy="412.3" r="1.9" fill="#1c1c1c"/>
<circle cx="291.5" cy="482.7" r="2.0" fill="#fff" stroke="#1c1c1c" stroke-width="1.15"/>
<circle cx="328.1" cy="477.0" r="1.8" fill="#1c1c1c"/>
<ellipse cx="529.5" cy="428.1" rx="3.0" ry="1.4" fill="#333" transform="rotate(92 529.5 428.1)"/>
<circle cx="317.9" cy="479.6" r="1.4" fill="#1c1c1c"/>
<circle cx="259.1" cy="478.8" r="1.7" fill="#1c1c1c"/>
<ellipse cx="739.6" cy="445.7" rx="2.5" ry="1.2" fill="#333" transform="rotate(177 739.6 445.7)"/>
<circle cx="334.7" cy="484.9" r="1.4" fill="#1c1c1c"/>
<ellipse cx="727.3" cy="432.3" rx="2.4" ry="1.5" fill="#333" transform="rotate(66 727.3 432.3)"/>
<circle cx="529.8" cy="433.4" r="1.5" fill="#1c1c1c"/>
<circle cx="265.3" cy="501.2" r="1.4" fill="#1c1c1c"/>
<circle cx="772.1" cy="453.7" r="1.4" fill="#1c1c1c"/>
<circle cx="338.6" cy="486.8" r="2.1" fill="#1c1c1c"/>
<circle cx="726.3" cy="440.6" r="1.7" fill="#1c1c1c"/>
<circle cx="256.6" cy="477.3" r="1.2" fill="#1c1c1c"/>
<circle cx="768.9" cy="440.8" r="2.0" fill="#fff" stroke="#1c1c1c" stroke-width="1.15"/>
<circle cx="767.4" cy="466.1" r="2.1" fill="#fff" stroke="#1c1c1c" stroke-width="1.15"/>
<circle cx="769.4" cy="456.4" r="2.1" fill="#fff" stroke="#1c1c1c" stroke-width="1.15"/>
<circle cx="717.2" cy="441.5" r="1.7" fill="#1c1c1c"/>
<ellipse cx="749.5" cy="428.3" rx="3.0" ry="1.5" fill="#333" transform="rotate(58 749.5 428.3)"/>
<ellipse cx="732.2" cy="440.6" rx="1.7" ry="1.5" fill="#333" transform="rotate(6 732.2 440.6)"/>
<circle cx="598.8" cy="428.8" r="1.4" fill="#1c1c1c"/>
<circle cx="476.5" cy="433.6" r="1.8" fill="#1c1c1c"/>
<circle cx="358.3" cy="476.8" r="1.3" fill="#1c1c1c"/>
<ellipse cx="291.1" cy="489.0" rx="2.0" ry="1.4" fill="#333" transform="rotate(153 291.1 489.0)"/>
<circle cx="414.2" cy="482.4" r="2.1" fill="#fff" stroke="#1c1c1c" stroke-width="1.15"/>
<circle cx="294.2" cy="485.3" r="2.2" fill="#1c1c1c"/>
<ellipse cx="762.3" cy="449.7" rx="2.1" ry="0.9" fill="#333" transform="rotate(59 762.3 449.7)"/>
<ellipse cx="271.8" cy="503.7" rx="1.7" ry="1.3" fill="#333" transform="rotate(73 271.8 503.7)"/>
<circle cx="342.6" cy="487.3" r="1.4" fill="#1c1c1c"/>
<circle cx="683.4" cy="431.7" r="1.7" fill="#1c1c1c"/>
<ellipse cx="344.1" cy="480.6" rx="2.7" ry="1.6" fill="#333" transform="rotate(98 344.1 480.6)"/>
<circle cx="261.3" cy="493.3" r="1.9" fill="#1c1c1c"/>
<circle cx="530.9" cy="442.4" r="1.9" fill="#fff" stroke="#1c1c1c" stroke-width="1.15"/>
<circle cx="455.3" cy="456.6" r="1.6" fill="#1c1c1c"/>
<circle cx="200.7" cy="439.0" r="2.3" fill="#fff" stroke="#1c1c1c" stroke-width="1.15"/>
<ellipse cx="771.5" cy="457.8" rx="2.1" ry="1.4" fill="#333" transform="rotate(178 771.5 457.8)"/>
<circle cx="443.8" cy="446.9" r="1.6" fill="#fff" stroke="#1c1c1c" stroke-width="1.15"/>
<circle cx="712.8" cy="438.1" r="2.0" fill="#1c1c1c"/>
<circle cx="296.3" cy="477.4" r="2.3" fill="#fff" stroke="#1c1c1c" stroke-width="1.15"/>
<ellipse cx="298.6" cy="491.5" rx="2.0" ry="1.0" fill="#333" transform="rotate(173 298.6 491.5)"/>
<circle cx="559.8" cy="442.9" r="2.0" fill="#1c1c1c"/>
<circle cx="654.4" cy="430.0" r="1.7" fill="#fff" stroke="#1c1c1c" stroke-width="1.15"/>
<ellipse cx="763.4" cy="456.0" rx="2.6" ry="1.3" fill="#333" transform="rotate(47 763.4 456.0)"/>
<circle cx="278.7" cy="483.9" r="2.0" fill="#1c1c1c"/>
<circle cx="338.1" cy="484.1" r="1.8" fill="#fff" stroke="#1c1c1c" stroke-width="1.15"/>
<circle cx="267.0" cy="481.5" r="1.6" fill="#1c1c1c"/>
<circle cx="535.2" cy="432.2" r="1.9" fill="#fff" stroke="#1c1c1c" stroke-width="1.15"/>
<circle cx="282.8" cy="478.6" r="1.6" fill="#1c1c1c"/>
<circle cx="571.0" cy="435.4" r="2.1" fill="#1c1c1c"/>
<circle cx="541.3" cy="446.3" r="2.0" fill="#fff" stroke="#1c1c1c" stroke-width="1.15"/>
<circle cx="444.7" cy="478.4" r="2.2" fill="#fff" stroke="#1c1c1c" stroke-width="1.15"/>
<ellipse cx="286.2" cy="504.7" rx="2.8" ry="0.8" fill="#333" transform="rotate(16 286.2 504.7)"/>
<ellipse cx="427.9" cy="483.0" rx="1.5" ry="1.2" fill="#333" transform="rotate(16 427.9 483.0)"/>
<circle cx="623.8" cy="442.6" r="2.0" fill="#1c1c1c"/>
<ellipse cx="772.1" cy="484.2" rx="2.6" ry="1.2" fill="#333" transform="rotate(161 772.1 484.2)"/>
<circle cx="681.3" cy="440.4" r="1.6" fill="#1c1c1c"/>
<circle cx="576.5" cy="442.6" r="1.6" fill="#1c1c1c"/>
<circle cx="387.3" cy="487.2" r="2.0" fill="#fff" stroke="#1c1c1c" stroke-width="1.15"/>
<ellipse cx="881.7" cy="422.0" rx="2.6" ry="1.3" fill="#333" transform="rotate(55 881.7 422.0)"/>
<circle cx="934.7" cy="427.2" r="1.6" fill="#1c1c1c"/>
<circle cx="920.9" cy="435.0" r="1.2" fill="#1c1c1c"/>
<circle cx="923.0" cy="438.6" r="2.1" fill="#1c1c1c"/>
<circle cx="899.8" cy="417.7" r="1.3" fill="#1c1c1c"/>
<ellipse cx="944.1" cy="428.9" rx="2.7" ry="1.4" fill="#333" transform="rotate(163 944.1 428.9)"/>
<ellipse cx="973.2" cy="427.4" rx="2.6" ry="1.2" fill="#333" transform="rotate(95 973.2 427.4)"/>
<circle cx="898.4" cy="439.1" r="1.7" fill="#fff" stroke="#1c1c1c" stroke-width="1.15"/>
<ellipse cx="967.7" cy="435.0" rx="2.0" ry="1.6" fill="#333" transform="rotate(127 967.7 435.0)"/>
<circle cx="907.5" cy="430.8" r="2.3" fill="#fff" stroke="#1c1c1c" stroke-width="1.15"/>
<ellipse cx="938.9" cy="421.4" rx="2.6" ry="1.5" fill="#333" transform="rotate(34 938.9 421.4)"/>
<circle cx="951.2" cy="420.2" r="1.8" fill="#fff" stroke="#1c1c1c" stroke-width="1.15"/>
<ellipse cx="886.7" cy="453.1" rx="1.9" ry="1.0" fill="#333" transform="rotate(159 886.7 453.1)"/>
<circle cx="879.2" cy="441.7" r="1.9" fill="#1c1c1c"/>
<circle cx="209.3" cy="1329.7" r="1.8" fill="#1c1c1c"/>
<circle cx="359.8" cy="1322.0" r="2.0" fill="#1c1c1c"/>
<ellipse cx="217.6" cy="1324.7" rx="2.2" ry="1.5" fill="#333" transform="rotate(86 217.6 1324.7)"/>
<circle cx="365.0" cy="1323.4" r="2.3" fill="#fff" stroke="#1c1c1c" stroke-width="1.15"/>
<circle cx="320.0" cy="1332.9" r="1.7" fill="#fff" stroke="#1c1c1c" stroke-width="1.15"/>
<circle cx="411.2" cy="1330.5" r="1.2" fill="#1c1c1c"/>
<circle cx="452.8" cy="1328.6" r="2.3" fill="#fff" stroke="#1c1c1c" stroke-width="1.15"/>
<circle cx="394.1" cy="1335.7" r="2.0" fill="#1c1c1c"/>
<ellipse cx="289.5" cy="1336.0" rx="1.6" ry="0.9" fill="#333" transform="rotate(39 289.5 1336.0)"/>
<circle cx="491.6" cy="1328.0" r="1.8" fill="#fff" stroke="#1c1c1c" stroke-width="1.15"/>
<circle cx="313.8" cy="1327.2" r="1.8" fill="#1c1c1c"/>
<circle cx="343.7" cy="1335.5" r="2.3" fill="#fff" stroke="#1c1c1c" stroke-width="1.15"/>
<circle cx="449.3" cy="1336.9" r="1.7" fill="#fff" stroke="#1c1c1c" stroke-width="1.15"/>
<ellipse cx="450.9" cy="1336.4" rx="2.4" ry="1.4" fill="#333" transform="rotate(38 450.9 1336.4)"/>
<circle cx="439.7" cy="1330.2" r="1.3" fill="#1c1c1c"/>
<circle cx="448.3" cy="1336.8" r="2.0" fill="#1c1c1c"/>
<circle cx="276.3" cy="1323.4" r="2.0" fill="#1c1c1c"/>
<circle cx="455.6" cy="1321.7" r="1.6" fill="#fff" stroke="#1c1c1c" stroke-width="1.15"/>
<ellipse cx="395.8" cy="1326.3" rx="3.0" ry="1.2" fill="#333" transform="rotate(180 395.8 1326.3)"/>
<circle cx="237.2" cy="1322.2" r="1.6" fill="#fff" stroke="#1c1c1c" stroke-width="1.15"/>
<circle cx="193.6" cy="1327.5" r="1.7" fill="#fff" stroke="#1c1c1c" stroke-width="1.15"/>
<circle cx="133.5" cy="1334.9" r="2.2" fill="#1c1c1c"/>
<circle cx="464.9" cy="1327.0" r="2.0" fill="#fff" stroke="#1c1c1c" stroke-width="1.15"/>
<circle cx="366.8" cy="1330.5" r="2.1" fill="#fff" stroke="#1c1c1c" stroke-width="1.15"/>
<circle cx="482.0" cy="1329.1" r="1.9" fill="#1c1c1c"/>
<ellipse cx="209.2" cy="1325.8" rx="2.3" ry="1.2" fill="#333" transform="rotate(2 209.2 1325.8)"/>
<circle cx="278.1" cy="1330.3" r="1.8" fill="#1c1c1c"/>
<circle cx="362.3" cy="1322.0" r="2.0" fill="#fff" stroke="#1c1c1c" stroke-width="1.15"/>
<circle cx="380.6" cy="1326.6" r="2.2" fill="#fff" stroke="#1c1c1c" stroke-width="1.15"/>
<circle cx="125.6" cy="1322.0" r="2.4" fill="#fff" stroke="#1c1c1c" stroke-width="1.15"/>
<circle cx="270.5" cy="1306.3" r="1.4" fill="#1c1c1c"/>
<ellipse cx="243.4" cy="1310.2" rx="2.7" ry="1.4" fill="#333" transform="rotate(40 243.4 1310.2)"/>
<circle cx="318.6" cy="1308.6" r="1.3" fill="#1c1c1c"/>
<ellipse cx="267.1" cy="1317.1" rx="2.7" ry="1.4" fill="#333" transform="rotate(35 267.1 1317.1)"/>
<circle cx="282.3" cy="1313.2" r="2.3" fill="#fff" stroke="#1c1c1c" stroke-width="1.15"/>
<circle cx="373.4" cy="1306.1" r="2.1" fill="#fff" stroke="#1c1c1c" stroke-width="1.15"/>
<circle cx="313.7" cy="1307.3" r="1.7" fill="#fff" stroke="#1c1c1c" stroke-width="1.15"/>
<circle cx="382.1" cy="1316.3" r="1.8" fill="#fff" stroke="#1c1c1c" stroke-width="1.15"/></svg></body></html>
